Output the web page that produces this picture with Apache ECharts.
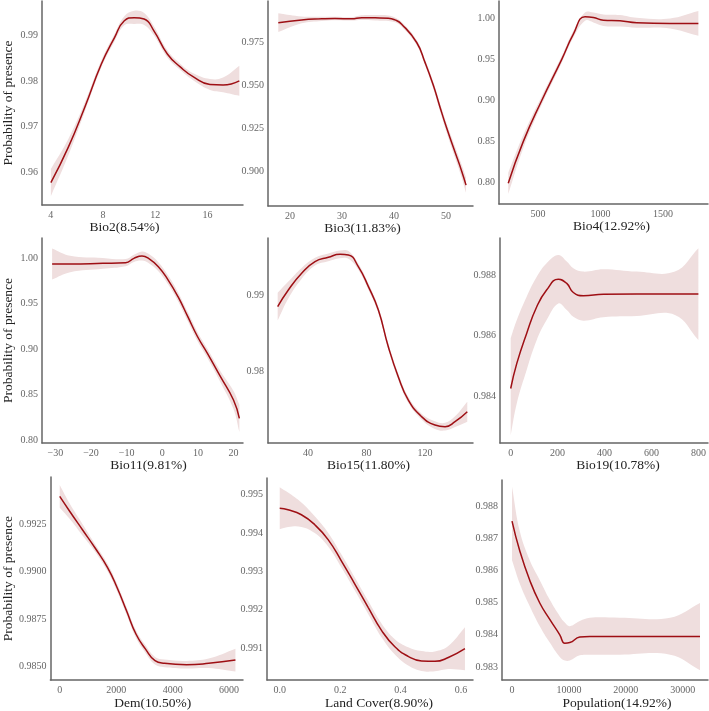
<!DOCTYPE html>
<html>
<head>
<meta charset="utf-8">
<script src="https://cdn.jsdelivr.net/npm/echarts@6/dist/echarts.min.js"></script>
<style>
  html, body { margin: 0; padding: 0; background: #fff; }
  #main { width: 709px; height: 711px; }
</style>
</head>
<body>
<div id="main"></div>
<script>
// Bio2
const bio2X = [4, 5.34, 6.6, 7.87, 8.88, 9.63, 10.39, 11.15, 11.9, 12.93, 13.94, 14.96, 16.2, 17.2, 18.45];
const bio2Fit = [0.9577, 0.9655, 0.9743, 0.9838, 0.9896, 0.9933, 0.9940, 0.9937, 0.9911, 0.9860, 0.9831, 0.9809, 0.9793, 0.9792, 0.9801];
const bio2Upper = [0.9607, 0.9673, 0.9753, 0.9846, 0.9904, 0.9943, 0.9955, 0.9950, 0.9921, 0.9868, 0.9838, 0.9817, 0.9805, 0.9808, 0.9834];
const bio2Lower = [0.9547, 0.9637, 0.9733, 0.9830, 0.9888, 0.9923, 0.9926, 0.9924, 0.9901, 0.9852, 0.9824, 0.9801, 0.9781, 0.9776, 0.9768];
const bio2XTicks = ['4', '8', '12', '16'];
const bio2YTicks = ['0.96', '0.97', '0.98', '0.99'];

// Bio3
const bio3X = [17.75, 22.24, 26.09, 28.65, 31.86, 33.78, 36.35, 38.91, 40.19, 41.47, 44.36, 45.96, 47.56, 48.85, 50.13, 51.73, 53.0, 53.85];
const bio3Fit = [0.9866, 0.9882, 0.9888, 0.9890, 0.9888, 0.9895, 0.9894, 0.9892, 0.9882, 0.9857, 0.975, 0.9634, 0.950, 0.9372, 0.925, 0.911, 0.900, 0.8917];
const bio3Upper = [0.9921, 0.9902, 0.9900, 0.9900, 0.9898, 0.9909, 0.9910, 0.9908, 0.9896, 0.9870, 0.9765, 0.9651, 0.9520, 0.9395, 0.9277, 0.9143, 0.9038, 0.8962];
const bio3Lower = [0.9811, 0.9862, 0.9876, 0.9880, 0.9878, 0.9881, 0.9878, 0.9876, 0.9868, 0.9844, 0.9735, 0.9617, 0.9480, 0.9349, 0.9223, 0.9077, 0.8962, 0.8872];
const bio3XTicks = ['20', '30', '40', '50'];
const bio3YTicks = ['0.900', '0.925', '0.950', '0.975'];

// Bio4
const bio4X = [262, 382, 530, 690, 783, 876, 943, 1023, 1156, 1290, 1556, 1783];
const bio4Fit = [0.7993, 0.85, 0.90, 0.95, 0.9806, 1.0019, 1.0009, 0.9976, 0.9968, 0.9944, 0.9936, 0.9936];
const bio4Upper = [0.8123, 0.858, 0.905, 0.954, 0.9846, 1.0069, 1.0069, 1.0046, 1.0038, 1.0004, 0.9996, 1.0086];
const bio4Lower = [0.7863, 0.842, 0.895, 0.946, 0.9766, 0.9969, 0.9949, 0.9906, 0.9898, 0.9884, 0.9876, 0.9786];
const bio4XTicks = ['500', '1000', '1500'];
const bio4YTicks = ['0.80', '0.85', '0.90', '0.95', '1.00'];

// Bio11
const bio11X = [-30.93, -25.87, -16.7, -10.29, -7.97, -5.69, -3.85, -1.1, 1.66, 4.42, 7.17, 9.92, 12.68, 16.34, 20.0, 21.65];
const bio11Fit = [0.9938, 0.9938, 0.9945, 0.9952, 1.000, 1.0026, 1.0, 0.9908, 0.9761, 0.9578, 0.9358, 0.9137, 0.8954, 0.8697, 0.844, 0.8238];
const bio11Upper = [1.0108, 1.0028, 1.0005, 0.9992, 1.004, 1.0076, 1.005, 0.9958, 0.9811, 0.9628, 0.9408, 0.9187, 0.9004, 0.8757, 0.854, 0.8388];
const bio11Lower = [0.9768, 0.9848, 0.9885, 0.9912, 0.996, 0.9976, 0.995, 0.9858, 0.9711, 0.9528, 0.9308, 0.9087, 0.8904, 0.8637, 0.834, 0.8088];
const bio11XTicks = ['−30', '−20', '−10', '0', '10', '20'];
const bio11YTicks = ['0.80', '0.85', '0.90', '0.95', '1.00'];

// Bio15
const bio15X = [19.26, 26.55, 35.67, 44.79, 53.9, 61.9, 67.6, 74.4, 81.3, 88.1, 94.9, 101.7, 108.6, 117.7, 126.8, 133.7, 140.5, 148.9];
const bio15Fit = [0.98848, 0.99065, 0.99283, 0.99435, 0.99491, 0.9953, 0.99522, 0.9937, 0.99109, 0.98804, 0.98326, 0.97935, 0.9763, 0.97413, 0.97304, 0.97283, 0.97348, 0.97478];
const bio15Upper = [0.99028, 0.99175, 0.99353, 0.99485, 0.99541, 0.9958, 0.99572, 0.9941, 0.99149, 0.98844, 0.98366, 0.97975, 0.9767, 0.97453, 0.97354, 0.97333, 0.97418, 0.97608];
const bio15Lower = [0.98668, 0.98955, 0.99213, 0.99385, 0.99441, 0.9948, 0.99472, 0.9933, 0.99069, 0.98764, 0.98286, 0.97895, 0.9759, 0.97373, 0.97254, 0.97233, 0.97278, 0.97348];
const bio15XTicks = ['40', '80', '120'];
const bio15YTicks = ['0.98', '0.99'];

// Bio19
const bio19X = [0, 26, 68, 111, 153, 203, 239, 267, 310, 395, 537, 700, 800];
const bio19Fit = [0.98425, 0.98508, 0.98607, 0.98695, 0.9875, 0.98786, 0.98772, 0.98742, 0.98731, 0.98736, 0.98737, 0.98737, 0.98737];
const bio19Upper = [0.98591, 0.98651, 0.98728, 0.98794, 0.98839, 0.98866, 0.98844, 0.98822, 0.98811, 0.98819, 0.98811, 0.98811, 0.98888];
const bio19Lower = [0.98271, 0.98376, 0.98486, 0.98585, 0.98651, 0.98706, 0.98684, 0.98662, 0.98649, 0.9866, 0.98664, 0.98668, 0.98585];
const bio19XTicks = ['0', '200', '400', '600', '800'];
const bio19YTicks = ['0.984', '0.986', '0.988'];

// Dem
const demX = [0, 358, 805, 1254, 1700, 2035, 2370, 2705, 3040, 3376, 3711, 4493, 5276, 6225];
const demFit = [0.99395, 0.99316, 0.9922, 0.99124, 0.9902, 0.98915, 0.98793, 0.98671, 0.98593, 0.98532, 0.98518, 0.98511, 0.98518, 0.98535];
const demUpper = [0.99455, 0.99356, 0.9925, 0.99144, 0.9904, 0.98935, 0.98813, 0.98691, 0.98613, 0.98552, 0.98538, 0.98531, 0.98543, 0.98595];
const demLower = [0.99335, 0.99276, 0.9919, 0.99104, 0.99, 0.98895, 0.98773, 0.98651, 0.98573, 0.98512, 0.98498, 0.98491, 0.98493, 0.98475];
const demXTicks = ['0', '2000', '4000', '6000'];
const demYTicks = ['0.9850', '0.9875', '0.9900', '0.9925'];

// Land Cover
const landX = [0, 0.0276, 0.0718, 0.116, 0.1602, 0.2044, 0.2486, 0.2927, 0.3369, 0.3812, 0.4253, 0.4696, 0.5138, 0.558, 0.6132];
const landFit = [0.99465, 0.99461, 0.99448, 0.99422, 0.99383, 0.99327, 0.99267, 0.99206, 0.99146, 0.99103, 0.99078, 0.99066, 0.99065, 0.99075, 0.99098];
const landUpper = [0.9952, 0.99506, 0.9948, 0.99444, 0.99401, 0.99344, 0.99284, 0.99223, 0.99164, 0.99123, 0.99102, 0.99092, 0.99091, 0.99105, 0.99154];
const landLower = [0.9941, 0.99416, 0.99416, 0.994, 0.99365, 0.9931, 0.9925, 0.99189, 0.99128, 0.99083, 0.99054, 0.9904, 0.99039, 0.99045, 0.99042];
const landXTicks = ['0.0', '0.2', '0.4', '0.6'];
const landYTicks = ['0.991', '0.992', '0.993', '0.994', '0.995'];

// Population
const popX = [0, 1356, 3116, 4877, 6637, 8398, 9278, 10158, 11919, 13680, 18962, 27800, 33046];
const popFit = [0.98754, 0.98662, 0.9857, 0.98499, 0.98448, 0.984, 0.98374, 0.98376, 0.98393, 0.98395, 0.98395, 0.98395, 0.98395];
const popUpper = [0.98861, 0.98723, 0.98632, 0.9857, 0.98509, 0.98458, 0.98438, 0.98427, 0.98443, 0.98453, 0.98453, 0.98453, 0.98499];
const popLower = [0.98632, 0.9856, 0.98489, 0.98427, 0.98376, 0.98331, 0.9832, 0.9832, 0.98336, 0.98338, 0.98338, 0.98338, 0.9829];
const popXTicks = ['0', '10000', '20000', '30000'];
const popYTicks = ['0.983', '0.984', '0.985', '0.986', '0.987', '0.988'];

const yTitle = 'Probability of presence';

// panel layout: box = [left, top, width, height]
const panels = [
  { name: 'Bio2(8.54%)', x: bio2X, fit: bio2Fit, up: bio2Upper, lo: bio2Lower, xt: bio2XTicks, yt: bio2YTicks,
    xr: [3.32, 18.73], yr: [0.95277, 0.99766], box: [40, 1, 203, 204], shift: -18, ytitle: true },
  { name: 'Bio3(11.83%)', x: bio3X, fit: bio3Fit, up: bio3Upper, lo: bio3Lower, xt: bio3XTicks, yt: bio3YTicks,
    xr: [15.77, 55.19], yr: [0.8795, 0.99924], box: [268, 1, 205, 205], shift: -8 },
  { name: 'Bio4(12.92%)', x: bio4X, fit: bio4Fit, up: bio4Upper, lo: bio4Lower, xt: bio4XTicks, yt: bio4YTicks,
    xr: [188, 1860], yr: [0.7742, 1.0209], box: [499, 1, 209, 203], shift: 8 },
  { name: 'Bio11(9.81%)', x: bio11X, fit: bio11Fit, up: bio11Upper, lo: bio11Lower, xt: bio11XTicks, yt: bio11YTicks,
    xr: [-33.77, 22.67], yr: [0.7967, 1.0224], box: [38, 238, 205, 205], shift: 6, ytitle: true },
  { name: 'Bio15(11.80%)', x: bio15X, fit: bio15Fit, up: bio15Upper, lo: bio15Lower, xt: bio15XTicks, yt: bio15YTicks,
    xr: [12.65, 152.8], yr: [0.9707, 0.99743], box: [268, 238, 205, 205], shift: -2 },
  { name: 'Bio19(10.78%)', x: bio19X, fit: bio19Fit, up: bio19Upper, lo: bio19Lower, xt: bio19XTicks, yt: bio19YTicks,
    xr: [-45.6, 841], yr: [0.98245, 0.98922], box: [500, 238, 208, 205], shift: 14 },
  { name: 'Dem(10.50%)', x: demX, fit: demFit, up: demUpper, lo: demLower, xt: demXTicks, yt: demYTicks,
    xr: [-330, 6493], yr: [0.9843, 0.99497], box: [39, 477, 204, 204], shift: 6, ytitle: true },
  { name: 'Land Cover(8.90%)', x: landX, fit: landFit, up: landUpper, lo: landLower, xt: landXTicks, yt: landYTicks,
    xr: [-0.0421, 0.6398], yr: [0.99016, 0.99544], box: [267, 478, 206, 204], shift: 9 },
  { name: 'Population(14.92%)', x: popX, fit: popFit, up: popUpper, lo: popLower, xt: popXTicks, yt: popYTicks,
    xr: [-1761, 34454], yr: [0.98259, 0.98882], box: [502, 480, 206, 203], shift: 12 }
];

const serif = '"Liberation Serif", "DejaVu Serif", serif';
const toNum = (s) => Number(String(s).replace('−', '-'));
const labelFor = (ticks, v) => {
  const t = ticks.find((s) => Math.abs(toNum(s) - v) < 1e-9);
  return t === undefined ? '' : t;
};

const grids = [], xAxes = [], yAxes = [], series = [];

panels.forEach((p, i) => {
  grids.push({ left: p.box[0], top: p.box[1], width: p.box[2], height: p.box[3] });

  const pad = p.shift >= 0 ? [0, 0, 0, 2 * p.shift] : [0, -2 * p.shift, 0, 0];
  xAxes.push({
    type: 'value', gridIndex: i, min: p.xr[0], max: p.xr[1], z: 5,
    name: p.name, nameLocation: 'middle', nameGap: 15,
    nameTextStyle: { fontFamily: serif, fontSize: 13.5, color: '#222', padding: pad },
    axisLine: { onZero: false, lineStyle: { color: '#666', width: 1.5 } },
    axisTick: { show: false },
    splitLine: { show: false },
    axisLabel: {
      customValues: p.xt.map(toNum),
      formatter: (v) => labelFor(p.xt, v),
      fontFamily: serif, fontSize: 10, color: '#666', margin: 5
    }
  });

  yAxes.push({
    type: 'value', gridIndex: i, min: p.yr[0], max: p.yr[1], z: 5,
    name: p.ytitle ? yTitle : '', nameLocation: 'middle', nameGap: 27,
    nameTextStyle: { fontFamily: serif, fontSize: 13.5, color: '#222' },
    axisLine: { show: true, onZero: false, lineStyle: { color: '#666', width: 1.5 } },
    axisTick: { show: false },
    splitLine: { show: false },
    axisLabel: {
      customValues: p.yt.map(toNum),
      formatter: (v) => labelFor(p.yt, v),
      fontFamily: serif, fontSize: 10, color: '#666', margin: 4
    }
  });

  // confidence band: one smoothed polygon, end corners doubled so the ends stay straight
  series.push({
    type: 'custom', xAxisIndex: i, yAxisIndex: i, silent: true, clip: true,
    data: p.x.map((x, k) => [x, p.lo[k], p.up[k]]),
    encode: { x: 0, y: [1, 2] },
    renderItem: (params, api) => {
      if (params.dataIndex !== 0) return null;
      const top = p.x.map((x, k) => api.coord([x, p.up[k]]));
      const bottom = p.x.map((x, k) => api.coord([x, p.lo[k]])).reverse();
      const n = top.length;
      const pts = [top[0]].concat(top, [top[n - 1], bottom[0]], bottom, [bottom[n - 1]]);
      return {
        type: 'polygon',
        shape: { points: pts, smooth: 0.4 },
        style: { fill: '#efdede', stroke: null }
      };
    },
    z: 1
  });
  // fitted response curve
  series.push({
    type: 'line', xAxisIndex: i, yAxisIndex: i,
    data: p.x.map((x, k) => [x, p.fit[k]]),
    smooth: 0.5, symbol: 'none',
    lineStyle: { color: '#9e0f14', width: 1.5 },
    z: 3
  });
});

const chart = echarts.init(document.getElementById('main'));
chart.setOption({
  animation: false,
  backgroundColor: '#fff',
  grid: grids,
  xAxis: xAxes,
  yAxis: yAxes,
  series: series
});
</script>
</body>
</html>
